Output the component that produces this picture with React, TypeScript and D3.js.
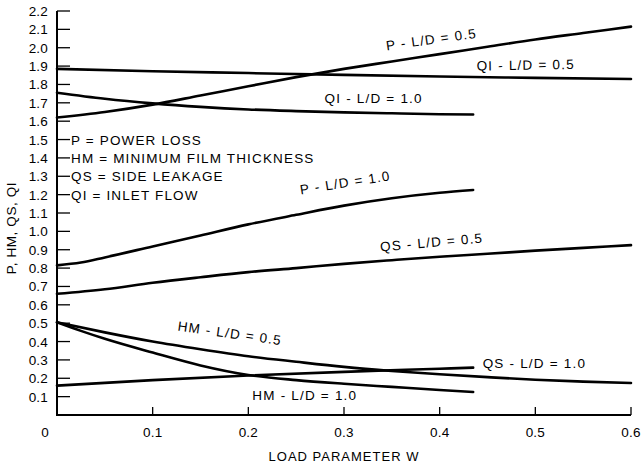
import React from "react";
import * as d3 from "d3";

const W = 642;
const H = 467;

const xTicks = [0.1, 0.2, 0.3, 0.4, 0.5, 0.6];
const xTickLabels = ["0.1", "0.2", "0.3", "0.4", "0.5", "0.6"];
const yTicks = [0.1, 0.2, 0.3, 0.4, 0.5, 0.6, 0.7, 0.8, 0.9, 1.0, 1.1, 1.2, 1.3, 1.4, 1.5, 1.6, 1.7, 1.8, 1.9, 2.0, 2.1, 2.2];

// series: [w, value]
const pLD05: [number, number][] = [
  [0, 1.62], [0.05, 1.65], [0.1, 1.69], [0.15, 1.74], [0.2, 1.79], [0.25, 1.84], [0.3, 1.885],
  [0.35, 1.925], [0.4, 1.965], [0.45, 2.005], [0.5, 2.045], [0.55, 2.08], [0.6, 2.115],
];
const qiLD05: [number, number][] = [
  [0, 1.885], [0.1, 1.872], [0.2, 1.862], [0.3, 1.852], [0.4, 1.843], [0.5, 1.836], [0.6, 1.83],
];
const qiLD10: [number, number][] = [
  [0, 1.755], [0.05, 1.722], [0.1, 1.697], [0.15, 1.678], [0.2, 1.664], [0.25, 1.655],
  [0.3, 1.648], [0.35, 1.643], [0.4, 1.638], [0.435, 1.636],
];
const pLD10: [number, number][] = [
  [0, 0.815], [0.025, 0.83], [0.05, 0.858], [0.1, 0.918], [0.15, 0.978], [0.2, 1.038],
  [0.25, 1.09], [0.3, 1.14], [0.35, 1.18], [0.4, 1.21], [0.435, 1.225],
];
const qsLD05: [number, number][] = [
  [0, 0.66], [0.05, 0.685], [0.1, 0.72], [0.15, 0.75], [0.2, 0.778], [0.25, 0.8], [0.3, 0.823],
  [0.35, 0.843], [0.4, 0.862], [0.45, 0.878], [0.5, 0.895], [0.55, 0.91], [0.6, 0.925],
];
const hmLD05: [number, number][] = [
  [0, 0.505], [0.05, 0.45], [0.1, 0.4], [0.15, 0.358], [0.2, 0.32], [0.25, 0.29], [0.3, 0.262],
  [0.35, 0.24], [0.4, 0.222], [0.45, 0.206], [0.5, 0.192], [0.55, 0.182], [0.6, 0.174],
];
const hmLD10: [number, number][] = [
  [0, 0.505], [0.025, 0.458], [0.05, 0.415], [0.1, 0.34], [0.15, 0.27], [0.2, 0.218],
  [0.25, 0.19], [0.3, 0.17], [0.35, 0.153], [0.4, 0.136], [0.435, 0.125],
];
const qsLD10: [number, number][] = [
  [0, 0.16], [0.1, 0.19], [0.2, 0.215], [0.3, 0.235], [0.4, 0.252], [0.435, 0.258],
];

const seriesList = [pLD05, qiLD05, qiLD10, pLD10, qsLD05, hmLD05, hmLD10, qsLD10];

const legendLines = [
  "P = POWER LOSS",
  "HM = MINIMUM FILM THICKNESS",
  "QS = SIDE LEAKAGE",
  "QI = INLET FLOW",
];
const legendValues = [1.5, 1.4, 1.3, 1.2];

// curve labels: text, anchor w, anchor value, rotation
const curveLabels: { t: string; w: number; v: number; r: number }[] = [
  { t: "P - L/D = 0.5", w: 0.392, v: 2.02, r: -8 },
  { t: "QI - L/D = 0.5", w: 0.49, v: 1.88, r: -1 },
  { t: "QI - L/D = 1.0", w: 0.331, v: 1.7, r: 0 },
  { t: "P - L/D = 1.0", w: 0.302, v: 1.24, r: -9 },
  { t: "QS - L/D = 0.5", w: 0.392, v: 0.915, r: -5 },
  { t: "HM - L/D = 0.5", w: 0.18, v: 0.42, r: 8 },
  { t: "HM - L/D = 1.0", w: 0.259, v: 0.08, r: 0 },
  { t: "QS - L/D = 1.0", w: 0.499, v: 0.255, r: 0 },
];

const FONT = "'Liberation Sans', Arial, sans-serif";

export default function App() {
  const x = d3.scaleLinear().domain([0, 0.6]).range([57, 631]);
  const y = d3.scaleLinear().domain([0, 2.2]).range([415, 11]);
  const line = d3
    .line<[number, number]>()
    .x((d) => x(d[0]))
    .y((d) => y(d[1]))
    .curve(d3.curveMonotoneX);

  return (
    <svg
      width={W}
      height={H}
      viewBox={`0 0 ${W} ${H}`}
      style={{ position: "absolute", left: 0, top: 0, background: "#fff" }}
    >
      <rect x={0} y={0} width={W} height={H} fill="#fff" />
      {/* axes */}
      <line x1={x(0)} y1={y(2.2)} x2={x(0)} y2={y(0)} stroke="#000" strokeWidth={2} />
      <line x1={x(0) - 1} y1={y(0)} x2={x(0.6)} y2={y(0)} stroke="#000" strokeWidth={2} />
      {yTicks.map((t) => (
        <g key={"yt" + t}>
          <line x1={x(0)} x2={x(0) + 13} y1={y(t)} y2={y(t)} stroke="#000" strokeWidth={1.3} />
          <text
            x={48}
            y={y(t) + 5}
            textAnchor="end"
            fontFamily={FONT}
            fontSize={13.5}
            letterSpacing={0.2}
            fill="#000"
          >
            {t.toFixed(1)}
          </text>
        </g>
      ))}
      {xTicks.map((t, i) => (
        <g key={"xt" + t}>
          <line x1={x(t)} x2={x(t)} y1={y(0)} y2={y(0) - 8} stroke="#000" strokeWidth={1.3} />
          <text
            x={x(t)}
            y={y(0) + 22}
            textAnchor="middle"
            fontFamily={FONT}
            fontSize={13.5}
            letterSpacing={0.2}
            fill="#000"
          >
            {xTickLabels[i]}
          </text>
        </g>
      ))}
      <text x={45} y={y(0) + 22} textAnchor="middle" fontFamily={FONT} fontSize={13.5} fill="#000">
        0
      </text>
      {/* axis titles */}
      <text
        x={344}
        y={461}
        textAnchor="middle"
        fontFamily={FONT}
        fontSize={13}
        letterSpacing={1.0}
        fill="#000"
      >
        LOAD PARAMETER W
      </text>
      <text
        transform={`translate(16,228) rotate(-90)`}
        textAnchor="middle"
        fontFamily={FONT}
        fontSize={13.5}
        letterSpacing={0.6}
        fill="#000"
      >
        P, HM, QS, QI
      </text>
      {/* legend */}
      {legendLines.map((t, i) => (
        <text
          key={t}
          x={71}
          y={y(legendValues[i]) + 5}
          fontFamily={FONT}
          fontSize={13.5}
          letterSpacing={1.15}
          fill="#000"
        >
          {t}
        </text>
      ))}
      {/* curves */}
      {seriesList.map((s, i) => (
        <path
          key={"s" + i}
          d={line(s) || ""}
          fill="none"
          stroke="#000"
          strokeWidth={2.6}
          strokeLinecap="round"
        />
      ))}
      {/* curve labels */}
      {curveLabels.map((c) => (
        <text
          key={c.t}
          transform={`translate(${x(c.w)},${y(c.v)}) rotate(${c.r})`}
          textAnchor="middle"
          fontFamily={FONT}
          fontSize={13.5}
          letterSpacing={1.2}
          fill="#000"
        >
          {c.t}
        </text>
      ))}
    </svg>
  );
}
